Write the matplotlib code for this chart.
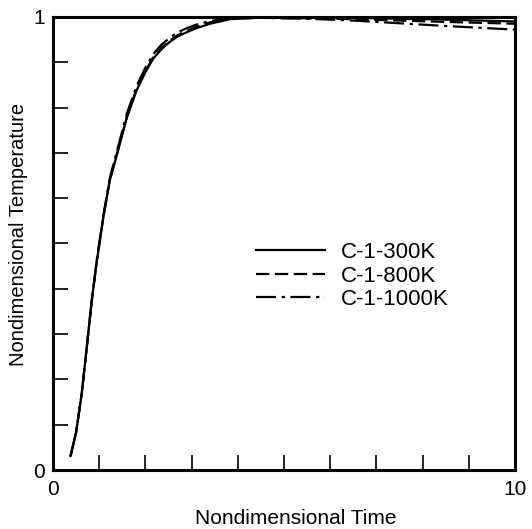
import numpy as np
import matplotlib
matplotlib.use("Agg")
import matplotlib.pyplot as plt

# ==============================
# Data
# ==============================
time = [0.38, 0.5, 0.62, 0.73, 0.84, 0.95, 1.09, 1.23, 1.41, 1.6, 1.81,
        2.0, 2.17, 2.35, 2.53, 2.7, 2.89, 3.1, 3.4, 3.83, 4.5, 5.5, 6.5,
        7.5, 8.5, 10.0]

temp_300 = [0.031, 0.083, 0.167, 0.27, 0.374, 0.462, 0.558, 0.639, 0.706,
            0.778, 0.838, 0.878, 0.908, 0.929, 0.945, 0.957, 0.966, 0.975,
            0.985, 0.995, 0.999, 0.999, 0.998, 0.996, 0.994, 0.990]

temp_800 = [0.031, 0.083, 0.167, 0.27, 0.374, 0.462, 0.558, 0.640, 0.708,
            0.780, 0.841, 0.881, 0.911, 0.932, 0.948, 0.960, 0.969, 0.978,
            0.988, 0.996, 0.998, 0.997, 0.995, 0.992, 0.989, 0.985]

temp_1000 = [0.031, 0.083, 0.167, 0.27, 0.376, 0.465, 0.562, 0.645, 0.714,
             0.787, 0.848, 0.888, 0.918, 0.939, 0.954, 0.966, 0.975, 0.983,
             0.991, 0.997, 0.998, 0.996, 0.992, 0.986, 0.980, 0.972]

series_labels = ["C-1-300K", "C-1-800K", "C-1-1000K"]

# ==============================
# Plot
# ==============================
plt.rcParams["font.family"] = ["Liberation Sans", "DejaVu Sans"]

fig = plt.figure(figsize=(5.32, 5.29), dpi=100)
ax = fig.add_axes([0.0996, 0.1115, 0.8684, 0.8565])

ax.plot(time, temp_300, color="black", lw=1.6, ls="-", label=series_labels[0])
ax.plot(time, temp_800, color="black", lw=1.6, ls=(0, (6, 2.5)), label=series_labels[1])
ax.plot(time, temp_1000, color="black", lw=1.6, ls=(0, (9, 2.5, 1.5, 2.5)), label=series_labels[2])

ax.set_xlim(0, 10)
ax.set_ylim(0, 1)

ax.set_xticks(np.arange(0, 11, 1))
ax.set_xticklabels(["0"] + [""] * 9 + ["10"])
ax.set_yticks(np.arange(0, 1.01, 0.1))
ax.set_yticklabels(["0"] + [""] * 9 + ["1"])

ax.tick_params(direction="in", length=11, width=1.2, labelsize=15, pad=7)
ax.tick_params(axis="y", pad=6)
for s in ax.spines.values():
    s.set_linewidth(2.2)

ax.set_xlabel("Nondimensional Time", fontsize=15)
ax.xaxis.set_label_coords(0.526, -0.085)
ax.set_ylabel("Nondimensional Temperature", fontsize=14.5)
ax.yaxis.set_label_coords(-0.055, 0.52)

ax.legend(loc="center left", bbox_to_anchor=(0.44, 0.428), frameon=False,
          borderpad=0, borderaxespad=0,
          handlelength=3.1, fontsize=16, labelspacing=0.12, handletextpad=0.7)

fig.savefig("out.png", dpi=100)
